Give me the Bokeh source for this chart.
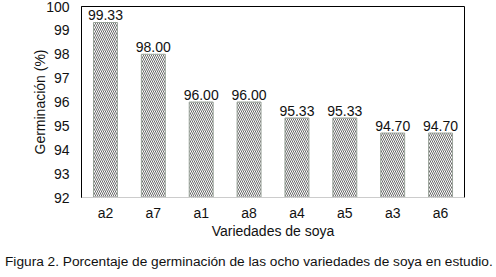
from bokeh.plotting import figure
from bokeh.layouts import column
from bokeh.models import ColumnDataSource, Range1d, FixedTicker, LabelSet, Div
from bokeh.core.properties import value
from bokeh.embed import file_html
from bokeh.resources import INLINE

varieties = ["a2", "a7", "a1", "a8", "a4", "a5", "a3", "a6"]
germination = [99.33, 98.00, 96.00, 96.00, 95.33, 95.33, 94.70, 94.70]
labels = ["99.33", "98.00", "96.00", "96.00", "95.33", "95.33", "94.70", "94.70"]
y_ticks = [92, 93, 94, 95, 96, 97, 98, 99, 100]
caption = "Figura 2. Porcentaje de germinación de las ocho variedades de soya en estudio."

FONT = "Liberation Sans"

src = ColumnDataSource(dict(x=varieties, top=germination, lab=labels))

p = figure(x_range=varieties, y_range=Range1d(92, 100), width=488, height=247,
           output_backend="svg", toolbar_location=None,
           min_border_left=81, min_border_right=24, min_border_top=6, min_border_bottom=50)

p.vbar(x="x", top="top", bottom=92, width=0.5, source=src,
       fill_color="white", line_color="#9aa49a", line_width=1,
       hatch_pattern="\\", hatch_color="#6a6a6a", hatch_scale=4, hatch_weight=1)

p.add_layout(LabelSet(x="x", y="top", text="lab", source=src, text_align="center",
                      text_baseline="bottom", y_offset=2, text_font=value(FONT),
                      text_font_size=value("14px"), text_color="#111111"))

p.xgrid.visible = False
p.ygrid.visible = False
p.outline_line_color = "black"
p.outline_line_width = 1

p.yaxis.ticker = FixedTicker(ticks=y_ticks)
p.yaxis.axis_label = "Germinación (%)"
p.yaxis.axis_line_color = "black"
p.yaxis.major_label_standoff = 12
p.yaxis.axis_label_standoff = -5

p.xaxis.axis_label = "Variedades de soya"
p.xaxis.axis_line_color = "#cccccc"
p.xaxis.major_label_standoff = 7
p.xaxis.axis_label_standoff = -1

for ax in (p.xaxis, p.yaxis):
    ax.major_tick_line_color = None
    ax.minor_tick_line_color = None
    ax.major_tick_out = 0
    ax.major_tick_in = 0
    ax.minor_tick_out = 0
    ax.major_label_text_font = FONT
    ax.major_label_text_font_size = "14px"
    ax.major_label_text_color = "#111111"
    ax.axis_label_text_font = FONT
    ax.axis_label_text_font_size = "14px"
    ax.axis_label_text_font_style = "normal"
    ax.axis_label_text_color = "#111111"

cap = Div(text=caption, width=488, height=22,
          styles={"font-family": FONT, "font-size": "13.7px", "color": "#111111",
                  "white-space": "nowrap", "line-height": "20px"})

layout = column(p, cap, spacing=0)

open("out.html", "w").write(file_html(layout, INLINE))
